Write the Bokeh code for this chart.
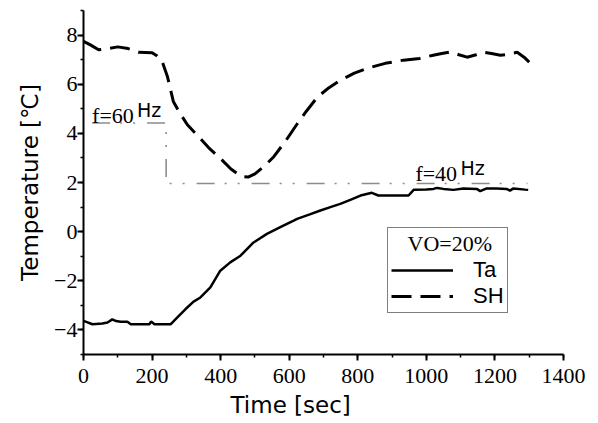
from bokeh.plotting import figure
from bokeh.models import Range1d, SingleIntervalTicker, Label, Legend, LegendItem, Title
from bokeh.embed import file_html
from bokeh.resources import INLINE

# ---- data ----
time_ta = [0, 10, 26, 55, 70, 84, 95, 108, 128, 138, 160, 192, 197, 207, 230, 254,
           273, 297, 321, 341, 370, 399, 428, 458, 496, 535, 574, 613, 623, 660,
           691, 720, 749, 780, 808, 841, 860, 900, 948, 963, 1000, 1021, 1031,
           1050, 1079, 1108, 1147, 1157, 1176, 1205, 1234, 1244, 1254, 1288, 1297]
ta = [-3.63, -3.68, -3.77, -3.74, -3.7, -3.57, -3.64, -3.67, -3.67, -3.77, -3.77,
      -3.77, -3.66, -3.77, -3.77, -3.77, -3.5, -3.16, -2.85, -2.68, -2.27, -1.59,
      -1.25, -0.98, -0.44, -0.09, 0.18, 0.45, 0.52, 0.7, 0.86, 1.0, 1.13, 1.3,
      1.47, 1.58, 1.47, 1.47, 1.47, 1.7, 1.72, 1.74, 1.78, 1.74, 1.7, 1.76, 1.74,
      1.65, 1.76, 1.76, 1.74, 1.67, 1.76, 1.71, 1.7]

time_sh = [0, 20, 44, 70, 100, 130, 160, 200, 215, 230, 245, 262, 280, 303, 340,
           364, 405, 430, 460, 480, 500, 530, 555, 590, 624, 650, 682, 715, 749,
           790, 828, 880, 933, 980, 1020, 1045, 1070, 1095, 1119, 1145, 1166, 1190,
           1216, 1240, 1265, 1285, 1300]
sh = [7.75, 7.6, 7.4, 7.45, 7.52, 7.45, 7.3, 7.28, 7.15, 6.9, 6.3, 5.3, 4.85, 4.35,
      3.8, 3.43, 2.9, 2.55, 2.25, 2.22, 2.35, 2.7, 3.05, 3.7, 4.4, 4.9, 5.47, 5.85,
      6.16, 6.45, 6.65, 6.85, 6.98, 7.05, 7.18, 7.25, 7.31, 7.2, 7.1, 7.2, 7.3,
      7.25, 7.18, 7.22, 7.3, 7.1, 6.9]

time_f = [25, 241, 241, 1295]
freq_level = [4.42, 4.42, 1.96, 1.96]

freq_labels = ["f=60", "f=40"]
freq_label_x = [25, 968]
freq_label_y = [4.73, 2.37]

x_title = "Time [sec]"
y_title = "Temperature [℃]"
legend_title = "VO=20%"
series_names = ["Ta", "SH"]

# ---- figure ----
p = figure(width=596, height=421, output_backend="svg", toolbar_location=None,
           x_range=Range1d(0, 1400), y_range=Range1d(-5, 9),
           min_border_left=83, min_border_right=33, min_border_top=10,
           min_border_bottom=67)
p.outline_line_color = None
p.grid.grid_line_color = None
p.background_fill_color = "white"

p.xaxis.ticker = SingleIntervalTicker(interval=200, num_minor_ticks=2)
p.yaxis.ticker = SingleIntervalTicker(interval=2, num_minor_ticks=2)

for ax in (p.xaxis[0], p.yaxis[0]):
    ax.axis_line_width = 2
    ax.axis_line_color = "black"
    ax.major_tick_line_width = 2
    ax.minor_tick_line_width = 1.5
    ax.major_tick_in = 0
    ax.minor_tick_in = 0
    ax.major_tick_out = 6
    ax.minor_tick_out = 3
    ax.major_label_text_font = "Liberation Serif"
    ax.major_label_text_font_size = "22px"
    ax.major_label_text_color = "black"

p.xaxis.major_label_standoff = 8
p.yaxis.major_label_standoff = 0
p.yaxis.axis_label = y_title
p.yaxis.axis_label_text_font = "DejaVu Sans"
p.yaxis.axis_label_text_font_size = "23px"
p.yaxis.axis_label_text_font_style = "normal"
p.yaxis.axis_label_text_color = "black"
p.yaxis.axis_label_standoff = 8

# x-axis title as a left-aligned title below the axis (reference is left of centre)
xt = Title(text=x_title, align="left", offset=147, standoff=8)
xt.text_font = "DejaVu Sans"
xt.text_font_size = "23px"
xt.text_font_style = "normal"
xt.text_color = "black"
p.add_layout(xt, "below")

# frequency schedule (grey dash-dot)
p.line(time_f, freq_level, line_color="#8c8c8c", line_width=1.6,
       line_dash="18 10 2 11 2 12")

r_ta = p.line(time_ta, ta, line_color="black", line_width=2.5)
r_sh = p.line(time_sh, sh, line_color="black", line_width=3, line_dash="20 9")

# frequency labels
for txt, lx, ly in zip(freq_labels, freq_label_x, freq_label_y):
    p.add_layout(Label(x=lx, y=ly, text=txt, text_font="Liberation Serif",
                       text_font_size="22px", text_color="black",
                       text_baseline="alphabetic"))
    p.add_layout(Label(x=lx, y=ly, x_offset=45, y_offset=5, text="Hz",
                       text_font="DejaVu Sans", text_font_size="19px",
                       text_color="black", text_baseline="alphabetic"))

legend = Legend(items=[LegendItem(label=series_names[0], renderers=[r_ta]),
                       LegendItem(label=series_names[1], renderers=[r_sh])],
                title="\u00a0\u00a0\u00a0" + legend_title, location=(304, 41))
legend.title_text_font = "Liberation Serif"
legend.title_text_font_size = "22px"
legend.title_text_font_style = "normal"
legend.title_text_color = "black"
legend.title_standoff = 0
legend.label_text_font = "Liberation Sans"
legend.label_text_font_size = "22px"
legend.label_text_color = "black"
legend.glyph_width = 62
legend.glyph_height = 20
legend.label_height = 20
legend.label_standoff = 20
legend.spacing = 0
legend.padding = 3
legend.margin = 0
legend.border_line_color = "black"
legend.border_line_width = 1.5
legend.background_fill_alpha = 1
p.add_layout(legend)

open("out.html", "w").write(file_html(p, INLINE))
